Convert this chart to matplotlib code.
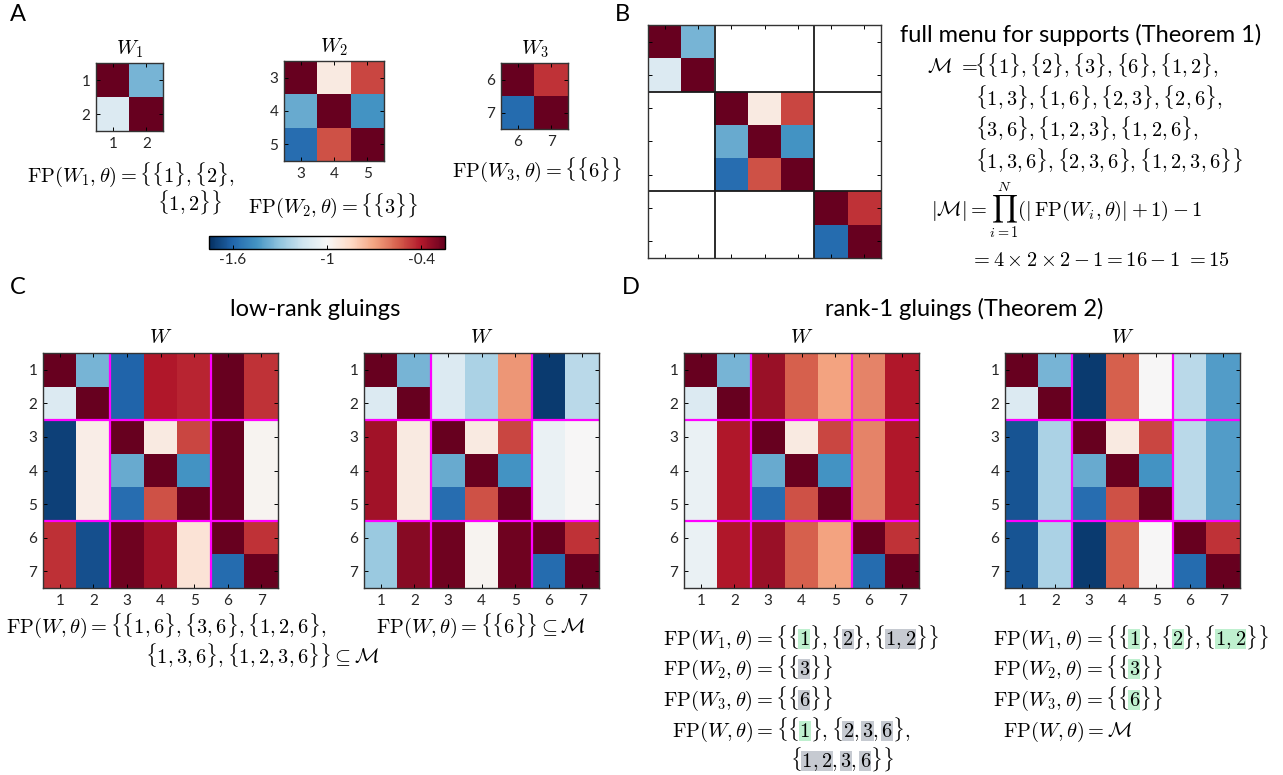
"""
Gluing figure: component networks, full menu of supports,
low-rank and rank-1 gluings of the same three blocks.
"""

import numpy as np
import matplotlib
matplotlib.use('Agg')
import matplotlib.pyplot as plt
from matplotlib.patches import Rectangle

plt.rcParams['mathtext.fontset'] = 'cm'
plt.rcParams['font.family'] = ['Lato', 'DejaVu Sans']

FIG_W, FIG_H = 1283, 775

# component networks (diagonal blocks)
W1 = [[0.00, -1.35],
      [-1.10, 0.00]]
W2 = [[0.00, -0.93, -0.50],
      [-1.38, 0.00, -1.45],
      [-1.57, -0.52, 0.00]]
W3 = [[0.00, -0.46],
      [-1.58, 0.00]]
NODES = ['1', '2', '3', '4', '5', '6', '7']

# off-diagonal column values for each block row (None = inside the block)
LOW_RANK_LEFT = [
    [None, None, -1.60, -0.40, -0.43, -0.25, -0.46],
    [-1.70, -0.95, None, None, None, -0.25, -0.98],
    [-0.45, -1.66, -0.27, -0.37, -0.90, None, None],
]
LOW_RANK_RIGHT = [
    [None, None, -1.10, -1.24, -0.67, -1.72, -1.20],
    [-0.37, -0.93, None, None, None, -1.05, -1.00],
    [-1.28, -0.32, -0.27, -0.98, -0.27, None, None],
]
# rank-1 gluings: one value per column, same for every block row
RANK1_LEFT = [-1.05, -0.40, -0.35, -0.55, -0.70, -0.63, -0.40]
RANK1_RIGHT = [-1.65, -1.24, -1.72, -0.55, -1.00, -1.20, -1.42]

CBAR_TICKS = [-1.6, -1.0, -0.4]
CBAR_LABELS = ['-1.6', '-1', '-0.4']
VMIN, VMAX = -1.75, -0.25

GREEN = '#bff0cf'
GRAY = '#c6cad1'
MAGENTA = '#ff00ff'
TXT = '#262626'
MATH_SIZE = 14.7
SANS_SIZE = 17
TICK_SIZE = 11

cmap = plt.get_cmap('RdBu_r').copy()
cmap.set_bad('white')

fig = plt.figure(figsize=(FIG_W / 100, FIG_H / 100), dpi=100)
renderer = fig.canvas.get_renderer()


def fx(x):
    return x / FIG_W


def fy(y):
    return 1 - y / FIG_H


def px_axes(x0, y0, x1, y1):
    return fig.add_axes([fx(x0), fy(y1), (x1 - x0) / FIG_W, (y1 - y0) / FIG_H])


def glue(rows=None):
    blocks = [W1, W2, W3]
    starts = np.cumsum([0] + [len(b) for b in blocks])
    n = starts[-1]
    M = np.full((n, n), np.nan)
    for k, b in enumerate(blocks):
        s, e = starts[k], starts[k + 1]
        if rows is not None:
            for j, v in enumerate(rows[k]):
                if v is not None:
                    M[s:e, j] = v
        M[s:e, s:e] = b
    return M, starts


def show(ax, M, xlabels, ylabels, lines=(), line_color=MAGENTA, lw=1.6):
    ax.imshow(M, cmap=cmap, vmin=VMIN, vmax=VMAX, aspect='auto',
              interpolation='nearest')
    ax.set_xticks(range(M.shape[1]))
    ax.set_yticks(range(M.shape[0]))
    ax.set_xticklabels(xlabels)
    ax.set_yticklabels(ylabels)
    ax.tick_params(direction='in', length=3, width=0.7, top=True, right=True,
                   labelsize=TICK_SIZE, labelcolor=TXT, pad=4)
    for sp in ax.spines.values():
        sp.set_linewidth(1.0)
        sp.set_color('#333333')
    for p in lines:
        ax.axvline(p, color=line_color, lw=lw)
        ax.axhline(p, color=line_color, lw=lw)


def txt(x, y, s, size=MATH_SIZE, ha='left', **kw):
    return fig.text(fx(x), fy(y), s, fontsize=size, ha=ha, va='baseline', **kw)


def raw_width(s, size):
    t = fig.text(0, 0, '$' + s + '$', fontsize=size)
    w = t.get_window_extent(renderer).width
    t.remove()
    return w


def advance(s, size):
    """Advance of a math prefix, trailing spacing included (a '1' is appended)."""
    return raw_width(s + '1', size) - raw_width('1', size)


def fp_line(x, y, parts, size=MATH_SIZE, pad=1.0):
    """Math line built from fragments; fragments with a colour get a box behind."""
    full = ''.join(p for p, _ in parts)
    txt(x, y, '$' + full + '$', size=size, zorder=3)
    fs = size * 100 / 72
    prefix = ''
    for frag, col in parts:
        if col is not None:
            a = x + advance(prefix, size)
            b = x + advance(prefix + frag, size)
            top, bot = y - 0.76 * fs, y + 0.2 * fs
            fig.add_artist(Rectangle((fx(a - pad), fy(bot)), (b - a + 2 * pad) / FIG_W,
                                     (bot - top) / FIG_H, transform=fig.transFigure,
                                     facecolor=col, edgecolor='none', zorder=1))
        prefix += frag


# ---- panel A: the three components ----
txt(10, 21, 'A', size=SANS_SIZE)
M_full, starts = glue()
comp_boxes = [(96, 63, 163, 131), (284, 61, 384, 161), (501, 63, 568, 129)]
for k, (box, W) in enumerate(zip(comp_boxes, [W1, W2, W3])):
    ax = px_axes(*box)
    labels = NODES[starts[k]:starts[k + 1]]
    show(ax, np.array(W), labels, labels)
    txt((box[0] + box[2]) / 2, box[1] - 8, r'$W_%d$' % (k + 1), ha='center')

txt(27, 182, r'$\mathrm{FP}(W_1,\theta) = \{\{1\},\{2\},$')
txt(157, 210, r'$\{1,2\}\}$')
txt(248, 213, r'$\mathrm{FP}(W_2,\theta) = \{\{3\}\}$')
txt(452, 177, r'$\mathrm{FP}(W_3,\theta) = \{\{6\}\}$')

cax = px_axes(209, 236, 445, 249)
sm = plt.cm.ScalarMappable(cmap=cmap, norm=plt.Normalize(VMIN, VMAX))
cb = fig.colorbar(sm, cax=cax, orientation='horizontal', ticks=CBAR_TICKS)
cb.ax.set_xticklabels(CBAR_LABELS)
cb.ax.tick_params(direction='in', length=3, width=0.7, labelsize=TICK_SIZE,
                  labelcolor=TXT, pad=3)
cb.outline.set_linewidth(1.0)

# ---- panel B: block-diagonal matrix and the full menu ----
txt(615, 21, 'B', size=SANS_SIZE)
axb = px_axes(648, 25, 881, 258)
show(axb, M_full, [], [], lines=starts[1:-1] - 0.5, line_color='#1a1a1a', lw=1.3)

txt(900, 42, 'full menu for supports (Theorem 1)', size=SANS_SIZE)
txt(927, 73, r'$\mathcal{M}\ =\!\!\{\{1\},\{2\},\{3\},\{6\},\{1,2\},$')
txt(975, 105, r'$\{1,3\},\{1,6\},\{2,3\},\{2,6\},$')
txt(975, 136, r'$\{3,6\},\{1,2,3\},\{1,2,6\},$')
txt(975, 168, r'$\{1,3,6\},\{2,3,6\},\{1,2,3,6\}\}$')
txt(931, 217, r'$|\mathcal{M}| = \prod_{i=1}^{N}(|\,\mathrm{FP}(W_i,\theta)| + 1) - 1$')
txt(970, 266, r'$= 4 \times 2 \times 2 - 1 = 16 - 1\ = 15$')

# ---- panel C: low-rank gluings ----
txt(10, 294, 'C', size=SANS_SIZE)
txt(315, 316, 'low-rank gluings', size=SANS_SIZE, ha='center')
for box, rows in [((43, 353, 278, 588), LOW_RANK_LEFT),
                  ((364, 353, 599, 588), LOW_RANK_RIGHT)]:
    M, _ = glue(rows)
    ax = px_axes(*box)
    show(ax, M, NODES, NODES, lines=starts[1:-1] - 0.5)
    txt((box[0] + box[2]) / 2, box[1] - 10, r'$W$', ha='center')

txt(6, 633, r'$\mathrm{FP}(W,\theta) = \{\{1,6\},\{3,6\},\{1,2,6\},$')
txt(145, 663, r'$\{1,3,6\},\{1,2,3,6\}\} \subseteq \mathcal{M}$')
txt(376, 633, r'$\mathrm{FP}(W,\theta) = \{\{6\}\} \subseteq \mathcal{M}$')

# ---- panel D: rank-1 gluings ----
txt(622, 294, 'D', size=SANS_SIZE)
txt(964, 316, 'rank-1 gluings (Theorem 2)', size=SANS_SIZE, ha='center')
for box, cols in [((684, 353, 919, 588), RANK1_LEFT),
                  ((1005, 353, 1240, 588), RANK1_RIGHT)]:
    M, _ = glue([cols] * 3)
    ax = px_axes(*box)
    show(ax, M, NODES, NODES, lines=starts[1:-1] - 0.5)
    txt((box[0] + box[2]) / 2, box[1] - 10, r'$W$', ha='center')

fp_line(663, 645, [(r'\mathrm{FP}(W_1,\theta) = \{\{', None), ('1', GREEN),
                   (r'\},\{', None), ('2', GRAY), (r'\},\{', None),
                   ('1,2', GRAY), (r'\}\}', None)])
fp_line(663, 675, [(r'\mathrm{FP}(W_2,\theta) = \{\{', None), ('3', GRAY),
                   (r'\}\}', None)])
fp_line(663, 706, [(r'\mathrm{FP}(W_3,\theta) = \{\{', None), ('6', GRAY),
                   (r'\}\}', None)])
fp_line(672, 737, [(r'\mathrm{FP}(W,\theta) = \{\{', None), ('1', GREEN),
                   (r'\},\{', None), ('2', GRAY), (',', None), ('3', GRAY),
                   (',', None), ('6', GRAY), (r'\},', None)])
fp_line(790, 767, [(r'\{', None), ('1,2', GRAY), (',', None), ('3', GRAY),
                   (',', None), ('6', GRAY), (r'\}\}', None)])

fp_line(993, 645, [(r'\mathrm{FP}(W_1,\theta) = \{\{', None), ('1', GREEN),
                   (r'\},\{', None), ('2', GREEN), (r'\},\{', None),
                   ('1,2', GREEN), (r'\}\}', None)])
fp_line(993, 675, [(r'\mathrm{FP}(W_2,\theta) = \{\{', None), ('3', GREEN),
                   (r'\}\}', None)])
fp_line(993, 706, [(r'\mathrm{FP}(W_3,\theta) = \{\{', None), ('6', GREEN),
                   (r'\}\}', None)])
txt(1003, 737, r'$\mathrm{FP}(W,\theta) = \mathcal{M}$')

fig.savefig('out.png', dpi=100)
